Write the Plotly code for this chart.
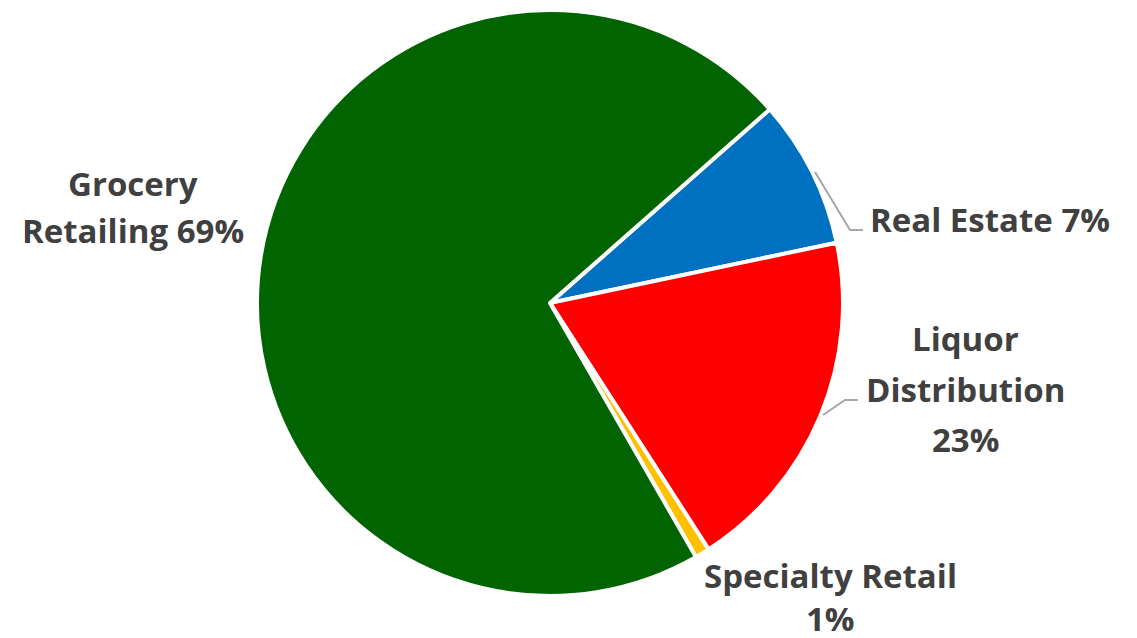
import plotly.graph_objects as go

# Slice data (clockwise from the Real Estate slice)
categories = ["Real Estate", "Liquor Distribution", "Specialty Retail", "Grocery Retailing"]
values = [8.2, 19.2, 0.8, 71.8]
colors = ["#0070C0", "#FF0000", "#FFC000", "#006400"]

# Label text lines as shown in the chart
label_lines = [
    ["Real Estate 7%"],
    ["Liquor", "Distribution", "23%"],
    ["Specialty Retail", "1%"],
    ["Grocery", "Retailing 69%"],
]

W, H = 1137, 638
cx, cy, r = 550, 303, 293

fig = go.Figure()
fig.add_trace(go.Pie(
    labels=categories,
    values=values,
    sort=False,
    direction="clockwise",
    rotation=48.6,
    marker=dict(colors=colors, line=dict(color="white", width=4)),
    textinfo="none",
    hoverinfo="label+percent",
    showlegend=False,
    domain=dict(x=[(cx - r) / W, (cx + r) / W], y=[(H - cy - r) / H, (H - cy + r) / H]),
))

# label anchor positions (pixel centre of each line block)
label_pos = [
    (990, [219]),
    (965, [338, 389, 439]),
    (830, [575, 618]),
    (133, [183, 230]),
]

for lines, (x, ys) in zip(label_lines, label_pos):
    for txt, y in zip(lines, ys):
        fig.add_annotation(
            x=x / W, y=1 - y / H, xref="paper", yref="paper",
            text=txt, showarrow=False, xanchor="center", yanchor="middle",
            font=dict(family="Open Sans", size=33, color="#404040", weight="bold"),
        )

# leader lines
leaders = [
    [(815, 172), (850, 230), (863, 230)],
    [(823, 415), (845, 400), (858, 400)],
]
for pts in leaders:
    path = "M " + " L ".join(f"{px / W},{1 - py / H}" for px, py in pts)
    fig.add_shape(type="path", path=path, xref="paper", yref="paper",
                  line=dict(color="#A6A6A6", width=2))

fig.update_layout(
    width=W, height=H,
    margin=dict(l=0, r=0, t=0, b=0),
    paper_bgcolor="white",
    plot_bgcolor="white",
)

fig.write_html("out.html", config={"displayModeBar": False},
               post_script="document.body.style.margin='0';")
